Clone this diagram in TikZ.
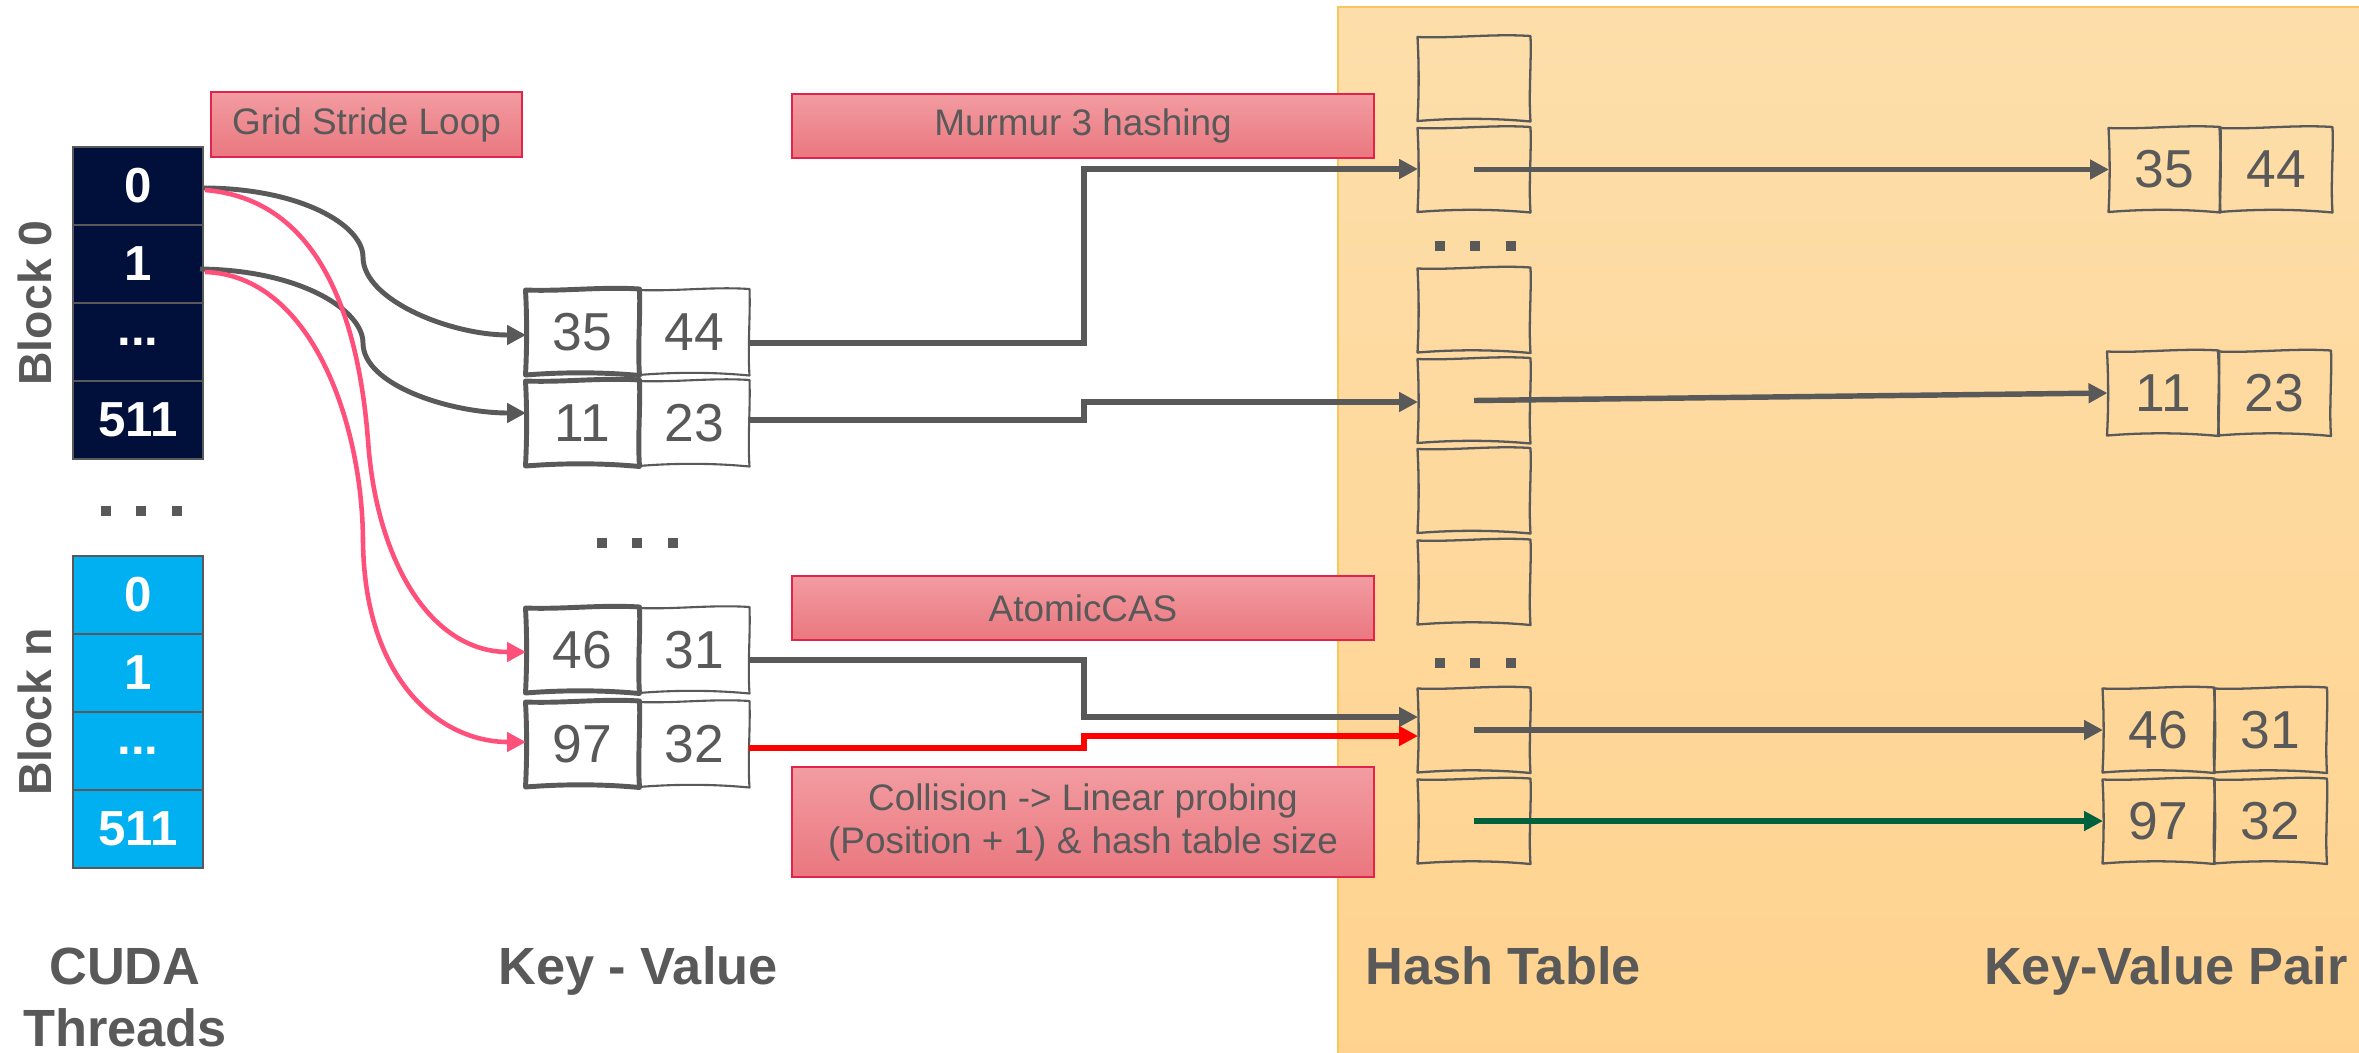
\documentclass[tikz,border=0pt]{standalone}
\usepackage{fontspec}
\setmainfont{Liberation Sans}
\usetikzlibrary{arrows.meta,calc}

\definecolor{lgray}{HTML}{595959}
\definecolor{navy}{HTML}{00103A}
\definecolor{cyanb}{HTML}{00B0F0}
\definecolor{pinkT}{HTML}{F29CA1}
\definecolor{pinkB}{HTML}{EA777F}
\definecolor{crim}{HTML}{E0244C}
\definecolor{panelT}{HTML}{FDDEAA}
\definecolor{panelB}{HTML}{FFD38F}
\definecolor{panelE}{HTML}{FBC55E}
\definecolor{pinkline}{HTML}{FF4F7B}
\definecolor{okgreen}{HTML}{00613F}

% hand-drawn looking outline around a node
\newcommand\skbox[2]{%
  \draw[line width=#2, lgray, line join=round]
    ($(#1.north west)+(-0.5,1)$)
      .. controls ($(#1.north west)!.33!(#1.north east)+(0,2.5)$) and ($(#1.north west)!.67!(#1.north east)+(0,-2.5)$) .. ($(#1.north east)+(0.5,0)$)
      .. controls ($(#1.north east)!.33!(#1.south east)+(1.5,0)$) and ($(#1.north east)!.67!(#1.south east)+(-1.5,0)$) .. ($(#1.south east)+(0.5,0.5)$)
      .. controls ($(#1.south east)!.33!(#1.south west)+(0,-3)$) and ($(#1.south east)!.67!(#1.south west)+(0,-3)$) .. ($(#1.south west)+(-0.5,0)$)
      .. controls ($(#1.south west)!.33!(#1.north west)+(1,0)$) and ($(#1.south west)!.67!(#1.north west)+(1,0)$) .. cycle;
}
% three square dots centred on (x,y)
\newcommand\squaredots[2]{%
  \foreach \dx in {-35.5,0,35.5}
    \fill[lgray] ($(#1,#2)+(\dx,0)+(-5,-5)$) rectangle ++(10,10);
}

\begin{document}
\begin{tikzpicture}[x=0.1mm,y=-0.1mm,
  thr/.style={draw=lgray, line width=0.8pt, minimum width=13mm, minimum height=7.8mm,
    inner sep=0pt, outer sep=0pt, text=white, font=\bfseries\fontsize{14}{16}\selectfont},
  blk0/.style={thr, fill=navy},
  blkn/.style={thr, fill=cyanb},
  cell/.style={minimum width=11.2mm, minimum height=8.5mm, inner sep=0pt, outer sep=0pt,
    text=lgray, font=\fontsize{15.2}{18}\selectfont},
  note/.style={draw=crim, line width=0.5pt, top color=pinkT, bottom color=pinkB,
    text=lgray, font=\fontsize{10.5}{12.2}\selectfont, inner sep=0pt, align=center,
    minimum width=58.2mm, minimum height=6.4mm},
  lbl/.style={text=lgray, font=\bfseries\fontsize{14.9}{17}\selectfont, inner sep=0pt, anchor=base},
  blbl/.style={text=lgray, font=\bfseries\fontsize{13.2}{15}\selectfont, inner sep=0pt, rotate=90},
  tip/.style={-{Triangle[length=5.4pt,width=5.4pt]}},
  conn/.style={tip, draw=lgray, line width=1.6pt},
  redconn/.style={tip, draw=red, line width=1.6pt},
  curv/.style={tip, draw=lgray, line width=1.4pt},
  pcurv/.style={tip, draw=pinkline, line width=1.3pt},
  slotarrow/.style={tip, draw=lgray, line width=1.55pt},
  greenarrow/.style={tip, draw=okgreen, line width=1.55pt}
]
\useasboundingbox (0,0) rectangle (2359,1052);
\fill[white] (0,0) rectangle (2359,1052);

% hash table panel
\path[draw=panelE, line width=0.6pt, top color=panelT, bottom color=panelB]
  (1338,7) rectangle (2370,1062);

% CUDA thread blocks
\node[blk0] (t00) at (138,186) {0};
\node[blk0] (t01) at (138,264) {1};
\node[blk0] (t02) at (138,342) {...};
\node[blk0] (t03) at (138,420) {511};
\node[blkn] (tn0) at (138,595) {0};
\node[blkn] (tn1) at (138,673) {1};
\node[blkn] (tn2) at (138,751) {...};
\node[blkn] (tn3) at (138,829) {511};
\node[blbl] (b0) at (35,303) {Block 0};
\node[blbl] (bn) at (35,712) {Block n};
\squaredots{141}{511}

% notes
\node[note, minimum width=31.1mm, minimum height=6.5mm] (grid) at (366.5,124.5) {Grid Stride Loop};
\node[note] (murmur) at (1083,126) {Murmur 3 hashing};
\node[note] (atomic) at (1083,608) {AtomicCAS};
\node[note, minimum height=11mm] (coll) at (1083,822)
  {Collision -> Linear probing\\(Position + 1) \& hash table size};

% input key-value pairs
\node[cell, minimum width=11.3mm, minimum height=8.6mm] (k1) at (582.5,332) {35};
\node[cell, minimum width=11mm, minimum height=8.6mm] (v1) at (694,332) {44};
\node[cell, minimum width=11.3mm, minimum height=8.6mm] (k2) at (582.5,423) {11};
\node[cell, minimum width=11mm, minimum height=8.6mm] (v2) at (694,423) {23};
\node[cell, minimum width=11.3mm, minimum height=8.6mm] (k3) at (582.5,650) {46};
\node[cell, minimum width=11mm, minimum height=8.6mm] (v3) at (694,650) {31};
\node[cell, minimum width=11.3mm, minimum height=8.6mm] (k4) at (582.5,744) {97};
\node[cell, minimum width=11mm, minimum height=8.6mm] (v4) at (694,744) {32};
\foreach \n in {v1,v2,v3,v4} {\skbox{\n}{0.6pt}}
\foreach \n in {k1,k2,k3,k4} {\skbox{\n}{1.4pt}}
\squaredots{637}{543}

% hash table slots
\foreach \i/\y in {1/78.5,2/169.5,3/310,4/400.5,5/490.5,6/582,7/730,8/821}
  {\node[cell] (h\i) at (1474,\y) {}; \skbox{h\i}{0.65pt}}
\squaredots{1475}{246}
\squaredots{1475}{663}

% stored key-value pairs
\node[cell, minimum width=11.1mm] (rk1) at (2164.5,169.5) {35};
\node[cell] (rv1) at (2276,169.5) {44};
\node[cell, minimum width=11.1mm] (rk2) at (2163,393) {11};
\node[cell] (rv2) at (2274.5,393) {23};
\node[cell, minimum width=11.1mm] (rk3) at (2158.5,730) {46};
\node[cell] (rv3) at (2270.5,730) {31};
\node[cell, minimum width=11.1mm] (rk4) at (2158.5,821) {97};
\node[cell] (rv4) at (2270.5,821) {32};
\foreach \n in {rk1,rv1,rk2,rv2,rk3,rv3,rk4,rv4} {\skbox{\n}{0.65pt}}

% threads to key-value pairs
\draw[curv] ([shift={(0,2)}]t00.east) .. controls (300,188) and (363,225) .. (363,257)
  .. controls (363,300) and (450,335) .. ([shift={(0,3)}]k1.west);
\draw[curv] ([shift={(-3,5)}]t01.east) .. controls (300,270) and (363,310) .. (363,343)
  .. controls (363,385) and (450,413) .. ([shift={(0,-10)}]k2.west);
\draw[pcurv] ([shift={(2,4)}]t00.east) .. controls (330,200) and (360,340) .. (368,440)
  .. controls (376,560) and (430,652) .. ([shift={(0,2)}]k3.west);
\draw[pcurv] ([shift={(2,8)}]t01.east) .. controls (310,275) and (362,420) .. (363,540)
  .. controls (364,680) and (440,742) .. ([shift={(0,-2)}]k4.west);

% hashing into slots
\draw[conn] ([shift={(0,11)}]v1.east) -- ++(335,0) |- ([shift={(0,-0.5)}]h2.west);
\draw[conn] ([shift={(0,-3)}]v2.east) -- ++(335,0) |- ([shift={(0,1.5)}]h4.west);
\draw[conn] ([shift={(0,10)}]v3.east) -- ++(335,0) |- ([shift={(0,-13)}]h7.west);
\draw[redconn] ([shift={(0,4)}]v4.east) -- ++(335,0) |- ([shift={(0,6)}]h7.west);

% slots to stored pairs
\draw[slotarrow] (h2.center) -- (rk1.west);
\draw[slotarrow] (h4.center) -- (rk2.west);
\draw[slotarrow] (h7.center) -- (rk3.west);
\draw[greenarrow] (h8.center) -- (rk4.west);

% column captions
\node[lbl] (cap1) at (125,984) {CUDA};
\node[lbl] (cap2) at (125,1046) {Threads};
\node[lbl] (cap3) at (638,984) {Key - Value};
\node[lbl] (cap4) at (1503,984) {Hash Table};
\node[lbl] (cap5) at (2166,984) {Key-Value Pair};
\end{tikzpicture}
\end{document}
